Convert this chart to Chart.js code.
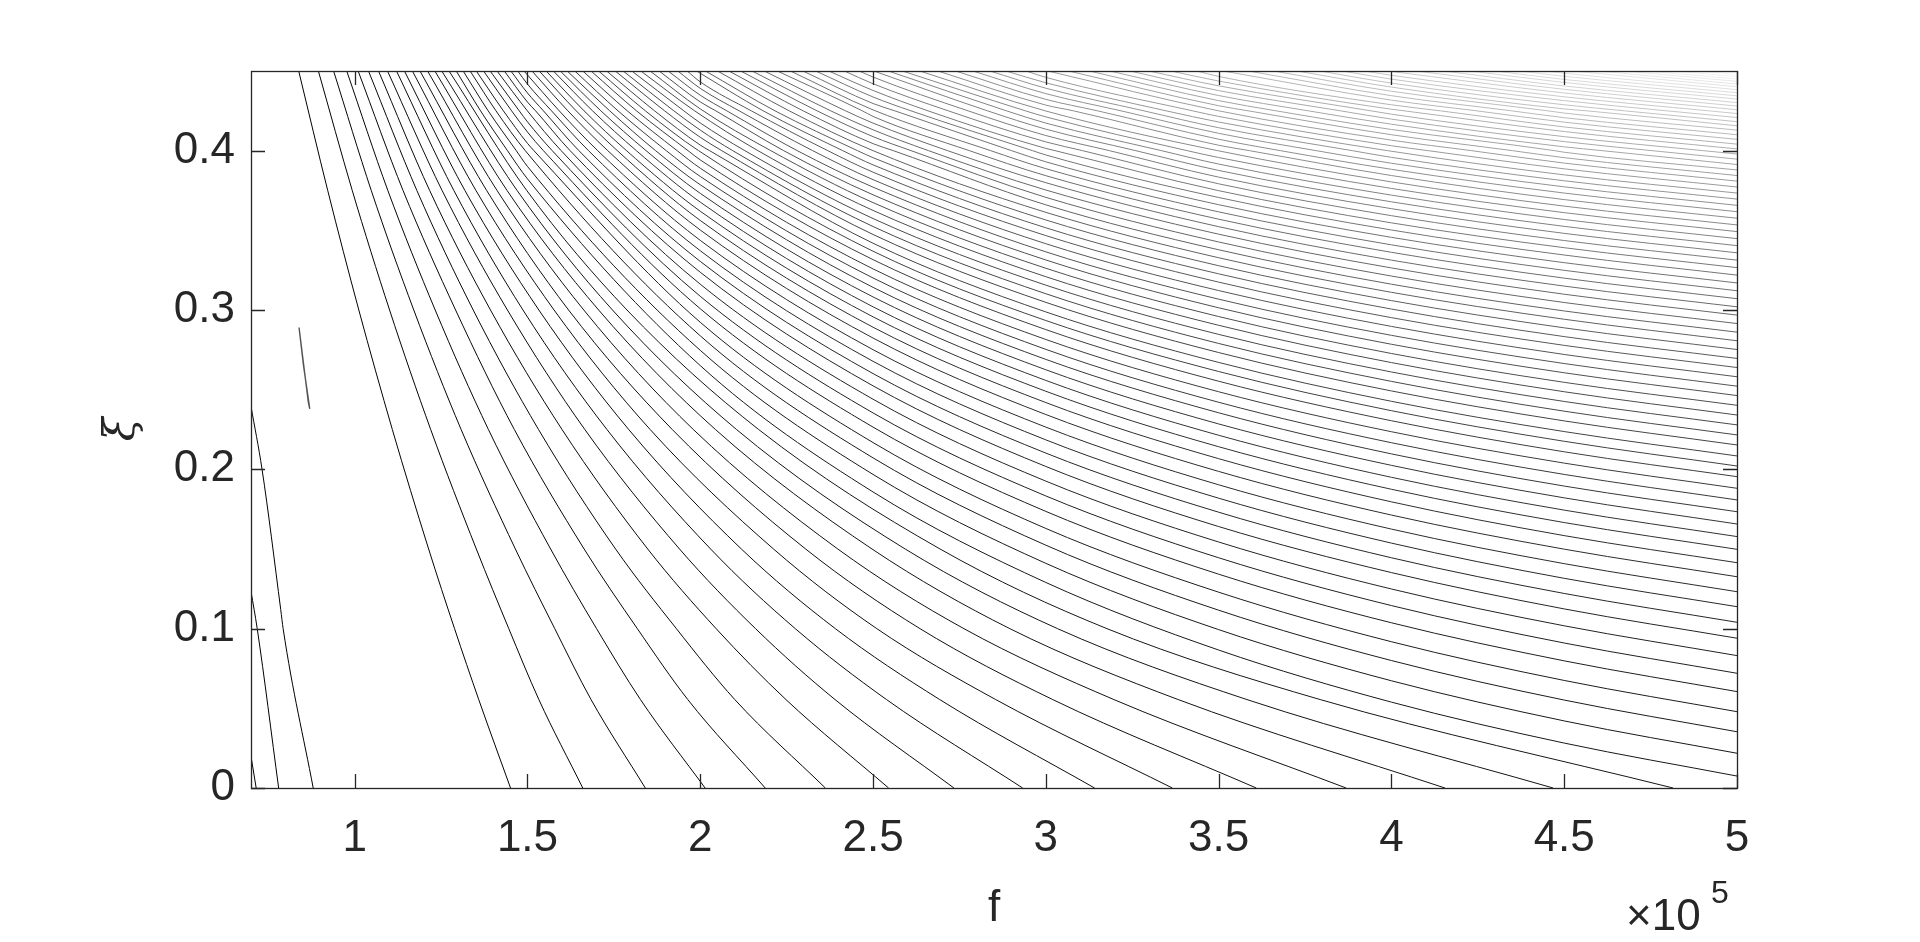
<!DOCTYPE html>
<html><head><meta charset="utf-8">
<script src="https://cdn.jsdelivr.net/npm/chart.js@4.4.1/dist/chart.umd.min.js"></script>
<style>html,body{margin:0;padding:0;background:#fff;overflow:hidden}canvas{display:block}</style>
</head><body><canvas id="c" width="1920" height="942"></canvas>
<script>
// f in units of 1e5 ; contours ordered left -> right (0..102)
const xTicks = [1, 1.5, 2, 2.5, 3, 3.5, 4, 4.5, 5];
const yTicks = [0, 0.1, 0.2, 0.3, 0.4];

// crossings of horizontal lines xi = const (f values); first entry belongs to contour `start`
const fBottom = [0.715, 0.780, 0.880, 1.451, 1.660, 1.841, 2.014, 2.188, 2.362, 2.545, 2.734, 2.933, 3.141, 3.366, 3.609, 3.869, 4.155, 4.468, 4.815]; // start 0
const fXi0555 = [1.359, 1.533, 1.684, 1.827, 1.964, 2.100, 2.248, 2.390, 2.539, 2.693, 2.855, 3.020, 3.197, 3.383, 3.582, 3.794]; // start 3
const fXi10 = [0.718, 0.793, 1.289, 1.446, 1.579, 1.700, 1.818, 1.931, 2.046, 2.160, 2.275, 2.391, 2.511, 2.636, 2.763, 2.896, 3.034, 3.177]; // start 1
const fXi112 = [0.786]; // start 2 (bend of third contour)
const fXi15 = [1.214, 1.352, 1.465, 1.567, 1.664, 1.755, 1.848, 1.940, 2.030, 2.119, 2.212, 2.305, 2.398, 2.497, 2.593, 2.694]; // start 3
const fXi20 = [0.732]; // start 2
const fXi225 = [1.109, 1.220, 1.308, 1.387, 1.462, 1.532, 1.600, 1.666, 1.730, 1.793, 1.855, 1.919, 1.980, 2.044, 2.105, 2.169]; // start 3
const fXi30 = [1.012, 1.101, 1.171, 1.233, 1.292, 1.343, 1.393, 1.442, 1.487, 1.533, 1.577, 1.619, 1.663, 1.706, 1.746, 1.788]; // start 3
const fXi375 = [0.922, 0.993, 1.048, 1.096, 1.140, 1.180, 1.217, 1.253, 1.287, 1.319, 1.351, 1.382, 1.412, 1.441, 1.470, 1.498]; // start 3
const fXi40 = [1.4422, 1.4676, 1.4937, 1.5187, 1.5462, 1.5717, 1.5975, 1.6234, 1.6489, 1.6767, 1.7033, 1.7324, 1.7601, 1.7866, 1.8151, 1.8433,
1.8708, 1.9016, 1.9331, 1.9646, 1.9952, 2.0271, 2.0622, 2.0941, 2.1291, 2.1670, 2.2042, 2.2415, 2.2807, 2.3254, 2.3692, 2.4124, 2.4551, 2.5074,
2.5588, 2.6102, 2.6606, 2.7158, 2.7788, 2.8405, 2.9010, 2.9615, 3.0269, 3.1064, 3.1842, 3.2603, 3.3347, 3.4092, 3.4973, 3.5894, 3.6793, 3.7826,
3.8870, 3.9889, 4.1065, 4.2320, 4.3508, 4.4723, 4.6104, 4.7540, 4.9026]; // start 19
const fXi425 = [1.3642, 1.3863, 1.4089, 1.4304, 1.4541, 1.4762, 1.4997, 1.5235, 1.5462, 1.5696, 1.5920, 1.6170, 1.6410, 1.6639, 1.6883, 1.7124,
1.7380, 1.7621, 1.7888, 1.8155, 1.8412, 1.8678, 1.8969, 1.9235, 1.9525, 1.9837, 2.0143, 2.0450, 2.0769, 2.1126, 2.1477, 2.1821, 2.2163, 2.2574,
2.2977, 2.3380, 2.3776, 2.4205, 2.4690, 2.5165, 2.5630, 2.6096, 2.6590, 2.7176, 2.7750, 2.8312, 2.8861, 2.9410, 3.0087, 3.0800, 3.1496, 3.2175,
3.2837, 3.3482, 3.4247, 3.5076, 3.5860, 3.6665, 3.7597, 3.8530, 3.9408, 4.0369, 4.1418, 4.2467, 4.3481, 4.4523, 4.5657, 4.6749, 4.7970, 4.9180]; // start 19
const fTop = [0.838, 0.895, 0.939, 0.977, 1.010, 1.040, 1.069, 1.095, 1.121, 1.144, 1.167, 1.189, 1.211, 1.232, 1.252, 1.273,
1.294, 1.314, 1.334, 1.352, 1.373, 1.392, 1.412, 1.433, 1.452, 1.472, 1.490, 1.513, 1.534, 1.554, 1.575, 1.595, 1.615, 1.637, 1.660, 1.684,
1.706, 1.729, 1.754, 1.777, 1.802, 1.828, 1.855, 1.881, 1.907, 1.935, 1.962, 1.989, 2.015, 2.050, 2.083, 2.117, 2.150, 2.185, 2.223, 2.261,
2.297, 2.334, 2.372, 2.417, 2.460, 2.502, 2.544, 2.585, 2.635, 2.688, 2.739, 2.789, 2.838, 2.885, 2.943, 3.006, 3.066, 3.126, 3.185, 3.243,
3.298, 3.362, 3.437, 3.513, 3.586, 3.659, 3.727, 3.793, 3.858, 3.921, 3.989, 4.071, 4.150, 4.228, 4.299, 4.371, 4.445, 4.524, 4.599, 4.674,
4.740, 4.816, 4.887, 4.943]; // start 3, xi = 0.45 (top edge)

// crossings of vertical lines f = const (xi values); start 19
const xiAtF15 = [0.3823, 0.3901, 0.3976, 0.4046, 0.4117, 0.4181, 0.4244, 0.4305, 0.4362, 0.4418, 0.4473];
const xiAtF2 = [0.2651, 0.2747, 0.2838, 0.2923, 0.3008, 0.3086, 0.3162, 0.3237, 0.3305, 0.3372, 0.3437, 0.3502, 0.3562, 0.3620, 0.3677, 0.3732,
0.3786, 0.3838, 0.3890, 0.3942, 0.3990, 0.4035, 0.4084, 0.4129, 0.4174, 0.4219, 0.4262, 0.4306, 0.4348, 0.4391, 0.4432, 0.4474];
const xiAtF25 = [0.1858, 0.1968, 0.2072, 0.2168, 0.2265, 0.2354, 0.2440, 0.2524, 0.2601, 0.2678, 0.2751, 0.2824, 0.2892, 0.2957, 0.3020, 0.3082,
0.3142, 0.3201, 0.3258, 0.3316, 0.3369, 0.3419, 0.3474, 0.3524, 0.3574, 0.3625, 0.3674, 0.3723, 0.3771, 0.3818, 0.3865, 0.3911, 0.3956, 0.4000,
0.4044, 0.4088, 0.4131, 0.4173, 0.4215, 0.4256, 0.4296, 0.4337, 0.4378, 0.4420, 0.4462];
const xiAtF3 = [0.1290, 0.1410, 0.1524, 0.1629, 0.1736, 0.1833, 0.1926, 0.2018, 0.2102, 0.2185, 0.2265, 0.2344, 0.2419, 0.2490, 0.2558, 0.2625,
0.2690, 0.2753, 0.2815, 0.2877, 0.2934, 0.2988, 0.3048, 0.3102, 0.3156, 0.3209, 0.3262, 0.3314, 0.3365, 0.3416, 0.3467, 0.3516, 0.3565, 0.3613,
0.3660, 0.3707, 0.3753, 0.3799, 0.3843, 0.3887, 0.3930, 0.3973, 0.4014, 0.4055, 0.4095, 0.4135, 0.4173, 0.4212, 0.4249, 0.4286, 0.4322, 0.4358,
0.4392, 0.4426, 0.4460];
const xiAtF35 = [0.0866, 0.0994, 0.1116, 0.1229, 0.1342, 0.1445, 0.1544, 0.1641, 0.1731, 0.1819, 0.1903, 0.1987, 0.2067, 0.2142, 0.2214, 0.2285,
0.2355, 0.2421, 0.2487, 0.2553, 0.2614, 0.2671, 0.2733, 0.2790, 0.2847, 0.2904, 0.2959, 0.3014, 0.3068, 0.3122, 0.3175, 0.3227, 0.3278, 0.3328,
0.3378, 0.3427, 0.3476, 0.3523, 0.3570, 0.3616, 0.3661, 0.3706, 0.3749, 0.3792, 0.3834, 0.3876, 0.3916, 0.3957, 0.3995, 0.4034, 0.4072, 0.4109,
0.4144, 0.4180, 0.4215, 0.4250, 0.4282, 0.4314, 0.4346, 0.4377, 0.4407, 0.4437, 0.4466];
const xiAtF4 = [0.0539, 0.0673, 0.0800, 0.0918, 0.1037, 0.1145, 0.1249, 0.1352, 0.1445, 0.1537, 0.1625, 0.1713, 0.1796, 0.1875, 0.1950, 0.2025,
0.2097, 0.2167, 0.2236, 0.2305, 0.2368, 0.2427, 0.2492, 0.2552, 0.2611, 0.2670, 0.2727, 0.2785, 0.2841, 0.2897, 0.2952, 0.3006, 0.3059, 0.3111,
0.3162, 0.3213, 0.3264, 0.3313, 0.3362, 0.3409, 0.3456, 0.3502, 0.3547, 0.3592, 0.3636, 0.3679, 0.3721, 0.3763, 0.3804, 0.3844, 0.3883, 0.3921,
0.3958, 0.3995, 0.4031, 0.4066, 0.4100, 0.4133, 0.4166, 0.4198, 0.4229, 0.4260, 0.4288, 0.4317, 0.4345, 0.4373, 0.4399, 0.4424, 0.4449, 0.4473];
const xiAtF45 = [0.0282, 0.0421, 0.0552, 0.0675, 0.0798, 0.0910, 0.1018, 0.1124, 0.1221, 0.1316, 0.1408, 0.1499, 0.1584, 0.1666, 0.1744, 0.1821,
0.1895, 0.1968, 0.2039, 0.2110, 0.2176, 0.2237, 0.2304, 0.2365, 0.2426, 0.2487, 0.2546, 0.2606, 0.2664, 0.2721, 0.2778, 0.2833, 0.2888, 0.2942,
0.2994, 0.3047, 0.3099, 0.3150, 0.3200, 0.3249, 0.3297, 0.3345, 0.3391, 0.3436, 0.3481, 0.3525, 0.3568, 0.3611, 0.3652, 0.3693, 0.3734, 0.3773,
0.3811, 0.3848, 0.3886, 0.3922, 0.3956, 0.3990, 0.4024, 0.4057, 0.4088, 0.4120, 0.4149, 0.4179, 0.4207, 0.4236, 0.4262, 0.4288, 0.4314, 0.4338,
0.4362, 0.4385, 0.4406, 0.4428, 0.4447, 0.4467, 0.4486];
const xiRight = [0.0075, 0.0218, 0.0353, 0.0479, 0.0605, 0.0720, 0.0831, 0.0940, 0.1040, 0.1138, 0.1232, 0.1326, 0.1414, 0.1498, 0.1578, 0.1657,
0.1734, 0.1808, 0.1881, 0.1954, 0.2021, 0.2084, 0.2153, 0.2216, 0.2279, 0.2341, 0.2402, 0.2463, 0.2522, 0.2581, 0.2639, 0.2696, 0.2752, 0.2807,
0.2861, 0.2915, 0.2968, 0.3020, 0.3071, 0.3121, 0.3170, 0.3219, 0.3266, 0.3313, 0.3359, 0.3404, 0.3448, 0.3492, 0.3534, 0.3576, 0.3617, 0.3657,
0.3696, 0.3734, 0.3772, 0.3809, 0.3844, 0.3879, 0.3913, 0.3947, 0.3979, 0.4011, 0.4041, 0.4071, 0.4100, 0.4129, 0.4156, 0.4182, 0.4208, 0.4233,
0.4257, 0.4280, 0.4302, 0.4324, 0.4344, 0.4364, 0.4383, 0.4401, 0.4418, 0.4435, 0.4450, 0.4465, 0.4479, 0.4492]; // f = 5 (right edge), start 19
const xiLeft = [0.0199, 0.1234, 0.2395]; // f = 0.7 (left edge), start 0
const islandF = [0.839, 0.852, 0.870, 0.866, 0.851, 0.839];
const islandXi = [0.289, 0.265, 0.238, 0.242, 0.268, 0.289];

const nC = 3 + fTop.length;
const raw = Array.from({length: nC}, () => []);
const hLines = [[0, 0, fBottom], [0.0555, 3, fXi0555], [0.1, 1, fXi10], [0.112, 2, fXi112], [0.15, 3, fXi15], [0.2, 2, fXi20],
  [0.225, 3, fXi225], [0.3, 3, fXi30], [0.375, 3, fXi375], [0.4, 19, fXi40], [0.425, 19, fXi425], [0.45, 3, fTop]];
const vLines = [[0.7, 0, xiLeft], [1.5, 19, xiAtF15], [2, 19, xiAtF2], [2.5, 19, xiAtF25], [3, 19, xiAtF3],
  [3.5, 19, xiAtF35], [4, 19, xiAtF4], [4.5, 19, xiAtF45], [5, 19, xiRight]];
hLines.forEach(([xi, s, arr]) => arr.forEach((f, i) => raw[s + i].push({x: f, y: xi})));
vLines.forEach(([f, s, arr]) => arr.forEach((xi, i) => raw[s + i].push({x: f, y: xi})));

// order along each contour and drop readings that sit almost on top of each other (< 8 px apart)
const PXF = 346, PXXI = 1593;
const pts = raw.map(p => {
  p.sort((a, b) => a.x - b.x);
  const out = [p[0]];
  for (let k = 1; k < p.length; k++) {
    const q = out[out.length - 1];
    const d = Math.hypot((p[k].x - q.x) * PXF, (p[k].y - q.y) * PXXI);
    if (d < 8) {
      if (k === p.length - 1 && out.length > 1) out[out.length - 1] = p[k];
      continue;
    }
    out.push(p[k]);
  }
  return out;
});

function grayFor(i) {
  const t = i / (nC - 1);
  const g = Math.round(248 * Math.pow(t, 1.4));
  return `rgb(${g},${g},${g})`;
}
const datasets = pts.map((p, i) => ({
  data: p, showLine: true, pointRadius: 0, borderWidth: 1,
  borderColor: grayFor(i), cubicInterpolationMode: 'monotone', fill: false
}));
datasets.push({
  data: islandF.map((f, i) => ({x: f, y: islandXi[i]})), showLine: true, pointRadius: 0,
  borderWidth: 1.4, borderColor: '#555555', tension: 0, fill: false
});

const FONT = '"Liberation Sans", Arial, Helvetica, sans-serif';
const AX = '#262626';
const frame = {
  id: 'frame',
  afterDraw(chart) {
    const {ctx, chartArea: a, scales: {x, y}} = chart;
    ctx.save();
    ctx.strokeStyle = AX; ctx.lineWidth = 1.3;
    ctx.strokeRect(Math.round(a.left) + 0.5, Math.round(a.top) + 0.5, Math.round(a.right - a.left), Math.round(a.bottom - a.top));
    const L = 14;
    ctx.beginPath();
    xTicks.forEach(v => {
      const px = Math.round(x.getPixelForValue(v)) + 0.5;
      ctx.moveTo(px, a.bottom); ctx.lineTo(px, a.bottom - L);
      ctx.moveTo(px, a.top); ctx.lineTo(px, a.top + L);
    });
    yTicks.forEach(v => {
      const py = Math.round(y.getPixelForValue(v)) + 0.5;
      ctx.moveTo(a.left, py); ctx.lineTo(a.left + L, py);
      ctx.moveTo(a.right, py); ctx.lineTo(a.right - L, py);
    });
    ctx.stroke();
    ctx.fillStyle = AX;
    ctx.font = `44px ${FONT}`;
    ctx.textAlign = 'center'; ctx.textBaseline = 'alphabetic';
    ctx.fillText('f', (a.left + a.right) / 2, 921);
    ctx.textAlign = 'left';
    ctx.fillText('\u00d710', 1626, 930);
    ctx.font = `32px ${FONT}`;
    ctx.fillText('5', 1711, 903);
    ctx.translate(134, (a.top + a.bottom) / 2);
    ctx.rotate(-Math.PI / 2);
    ctx.font = `italic 43px "DejaVu Serif", serif`;
    ctx.textAlign = 'center';
    ctx.fillText('\u03be', 0, 0);
    ctx.restore();
  }
};

new Chart(document.getElementById('c'), {
  type: 'scatter',
  data: {datasets},
  options: {
    responsive: false, animation: false, devicePixelRatio: 1,
    layout: {padding: {left: 0, top: 71, right: 183, bottom: 0}},
    plugins: {legend: {display: false}, tooltip: {enabled: false}},
    scales: {
      x: {
        type: 'linear', min: 0.7, max: 5,
        afterBuildTicks: s => { s.ticks = xTicks.map(v => ({value: v})); },
        afterFit: s => { s.height = 154; },
        grid: {display: false, drawTicks: false}, border: {display: false},
        ticks: {font: {family: FONT, size: 44}, color: AX, padding: 24, maxRotation: 0, autoSkip: false, callback: v => String(v)}
      },
      y: {
        type: 'linear', min: 0, max: 0.45,
        afterBuildTicks: s => { s.ticks = yTicks.map(v => ({value: v})); },
        afterFit: s => { s.width = 251; },
        grid: {display: false, drawTicks: false}, border: {display: false},
        ticks: {font: {family: FONT, size: 44}, color: AX, padding: 16, autoSkip: false, callback: v => String(v)}
      }
    }
  },
  plugins: [frame]
});
</script>
</body></html>
